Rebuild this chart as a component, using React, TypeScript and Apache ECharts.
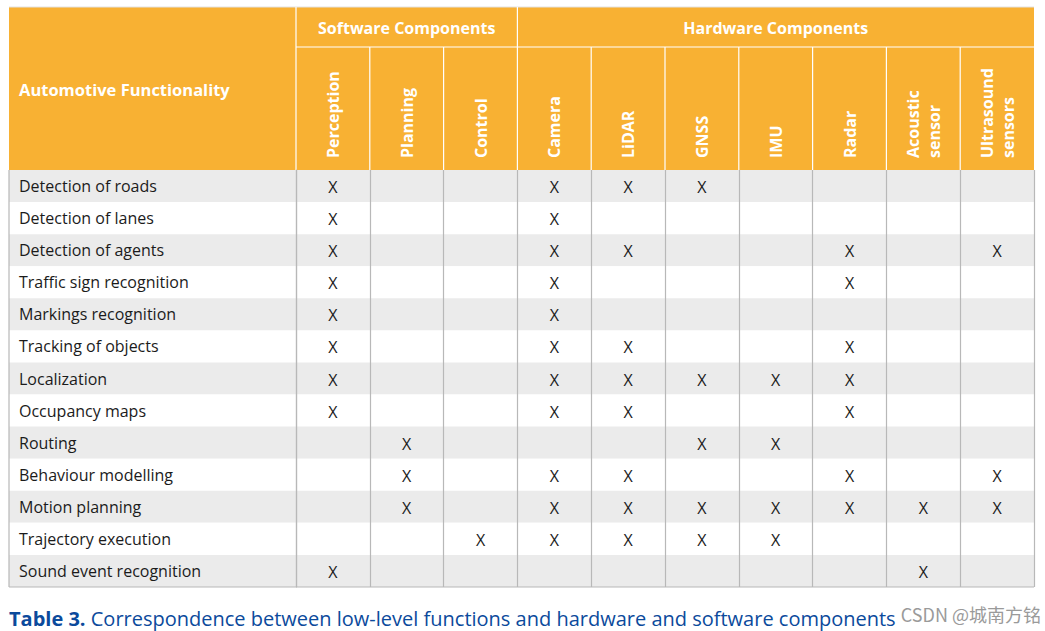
import React, { useEffect, useRef } from 'react';
import * as echarts from 'echarts';

const functions = [
  'Detection of roads',
  'Detection of lanes',
  'Detection of agents',
  'Traffic sign recognition',
  'Markings recognition',
  'Tracking of objects',
  'Localization',
  'Occupancy maps',
  'Routing',
  'Behaviour modelling',
  'Motion planning',
  'Trajectory execution',
  'Sound event recognition',
];
const softwareComponents = ['Perception', 'Planning', 'Control'];
const hardwareComponents = ['Camera', 'LiDAR', 'GNSS', 'IMU', 'Radar', 'Acoustic sensor', 'Ultrasound sensors'];
const components = [...softwareComponents, ...hardwareComponents];

// components marked with "X" for each functionality (same order as functions)
const marks: string[][] = [
  ['Perception', 'Camera', 'LiDAR', 'GNSS'],
  ['Perception', 'Camera'],
  ['Perception', 'Camera', 'LiDAR', 'Radar', 'Ultrasound sensors'],
  ['Perception', 'Camera', 'Radar'],
  ['Perception', 'Camera'],
  ['Perception', 'Camera', 'LiDAR', 'Radar'],
  ['Perception', 'Camera', 'LiDAR', 'GNSS', 'IMU', 'Radar'],
  ['Perception', 'Camera', 'LiDAR', 'Radar'],
  ['Planning', 'GNSS', 'IMU'],
  ['Planning', 'Camera', 'LiDAR', 'Radar', 'Ultrasound sensors'],
  ['Planning', 'Camera', 'LiDAR', 'GNSS', 'IMU', 'Radar', 'Acoustic sensor', 'Ultrasound sensors'],
  ['Control', 'Camera', 'LiDAR', 'GNSS', 'IMU'],
  ['Perception', 'Acoustic sensor'],
];

const groupTitles = ['Software Components', 'Hardware Components'];
const rowHeader = 'Automotive Functionality';
const captionBold = 'Table 3.';
const captionText = ' Correspondence between low-level functions and hardware and software components';
const watermark = 'CSDN @城南方铭';

const W = 1045;
const H = 631;
const TL = 9;
const TT = 7;
const HB1 = 47;
const GL = 296;
const GT = 170;
const GR = 1034;
const GB = 587;
const ORANGE = '#F8B133';
const LINE = '#B8B8B8';
const STRIPE = '#EBEBEB';
const INK = '#1b1b1b';
const BLUE = '#0b4a9c';
const FONT = '"Open Sans", "DejaVu Sans", sans-serif';

export default function App() {
  const ref = useRef<HTMLDivElement>(null);

  useEffect(() => {
    if (!ref.current) return;
    const chart = echarts.init(ref.current, undefined, { renderer: 'svg' });

    const points: number[][] = [];
    marks.forEach((row, r) => row.forEach((c) => points.push([components.indexOf(c), r])));
    const stripes = functions.map((_, r) => [0, r]);

    const colW = (GR - GL) / components.length;
    const nSoft = softwareComponents.length;

    const graphic: any[] = [
      { type: 'rect', shape: { x: TL, y: TT, width: GR - TL, height: GT - TT }, style: { fill: ORANGE } },
      { type: 'line', shape: { x1: TL, y1: TT, x2: GR, y2: TT }, style: { stroke: '#e2e2e2', lineWidth: 1 } },
      { type: 'line', shape: { x1: GL, y1: HB1, x2: GR, y2: HB1 }, style: { stroke: '#fff', lineWidth: 1.2 } },
    ];
    for (let i = 0; i < components.length; i++) {
      const x = GL + i * colW;
      const y1 = i === 0 || i === nSoft ? TT : HB1;
      graphic.push({ type: 'line', shape: { x1: x, y1, x2: x, y2: GT }, style: { stroke: '#fff', lineWidth: 1.2 } });
    }
    graphic.push(
      { type: 'line', shape: { x1: TL, y1: GT, x2: TL, y2: GB }, style: { stroke: LINE, lineWidth: 1.2 } },
      { type: 'line', shape: { x1: TL, y1: GB, x2: GR, y2: GB }, style: { stroke: LINE, lineWidth: 1.2 } },
      {
        type: 'text', x: TL + 10, y: (TT + GT) / 2 + 1,
        style: { text: rowHeader, fill: '#fff', fontFamily: FONT, fontWeight: 'bold', fontSize: 16.5, align: 'left', verticalAlign: 'middle' },
      },
      {
        type: 'text', x: GL + (nSoft * colW) / 2, y: (TT + HB1) / 2 + 1,
        style: { text: groupTitles[0], fill: '#fff', fontFamily: FONT, fontWeight: 'bold', fontSize: 16, align: 'center', verticalAlign: 'middle' },
      },
      {
        type: 'text', x: GL + nSoft * colW + ((components.length - nSoft) * colW) / 2, y: (TT + HB1) / 2 + 1,
        style: { text: groupTitles[1], fill: '#fff', fontFamily: FONT, fontWeight: 'bold', fontSize: 16, align: 'center', verticalAlign: 'middle' },
      },
      {
        type: 'text', x: TL, y: 618,
        style: {
          text: `{b|${captionBold}}{n|${captionText}}`,
          align: 'left', verticalAlign: 'middle',
          rich: {
            b: { fill: BLUE, fontFamily: FONT, fontWeight: 'bold', fontSize: 20 },
            n: { fill: BLUE, fontFamily: FONT, fontSize: 20 },
          },
        },
      },
      {
        type: 'text', x: 1041, y: 614,
        style: { text: watermark, fill: '#9a9a9a', fontFamily: '"Noto Sans CJK SC", sans-serif', fontSize: 18, align: 'right', verticalAlign: 'middle' },
      },
    );

    chart.setOption({
      animation: false,
      backgroundColor: '#fff',
      grid: { left: GL, top: GT, right: W - GR, bottom: H - GB, containLabel: false },
      xAxis: {
        type: 'category',
        position: 'top',
        data: components,
        boundaryGap: true,
        axisLine: { show: false },
        axisTick: { show: false },
        axisLabel: {
          interval: 0,
          rotate: -90,
          margin: 12,
          color: '#fff',
          fontFamily: FONT,
          fontWeight: 'bold',
          fontSize: 16,
          lineHeight: 21,
          formatter: (v: string) => v.replace(' ', '\n'),
        },
        splitLine: { show: true, lineStyle: { color: LINE, width: 1.2 } },
      },
      yAxis: {
        type: 'category',
        inverse: true,
        data: functions,
        axisLine: { show: true, lineStyle: { color: LINE, width: 1.2 } },
        axisTick: { show: false },
        axisLabel: {
          interval: 0,
          align: 'left',
          margin: GL - TL - 10,
          color: INK,
          fontFamily: FONT,
          fontSize: 16,
        },
        splitLine: { show: false },
      },
      graphic,
      series: [
        {
          type: 'custom',
          z: -1,
          clip: false,
          silent: true,
          data: stripes,
          encode: { x: 0, y: 1 },
          renderItem: (_params: any, api: any) => {
            const r = api.value(1);
            const c = api.coord([0, r]);
            const h = api.size([0, 1])[1];
            return {
              type: 'rect',
              shape: { x: TL, y: c[1] - h / 2, width: GR - TL, height: h },
              style: { fill: r % 2 === 0 ? STRIPE : '#fff' },
            };
          },
        },
        {
          type: 'custom',
          silent: true,
          data: points,
          encode: { x: 0, y: 1 },
          renderItem: (_params: any, api: any) => {
            const p = api.coord([api.value(0), api.value(1)]);
            return {
              type: 'text',
              x: p[0],
              y: p[1] + 1,
              style: { text: 'X', fill: INK, fontFamily: FONT, fontSize: 16, align: 'center', verticalAlign: 'middle' },
            };
          },
        },
      ],
    });

    return () => chart.dispose();
  }, []);

  return <div ref={ref} style={{ position: 'absolute', left: 0, top: 0, width: W, height: H }} />;
}
